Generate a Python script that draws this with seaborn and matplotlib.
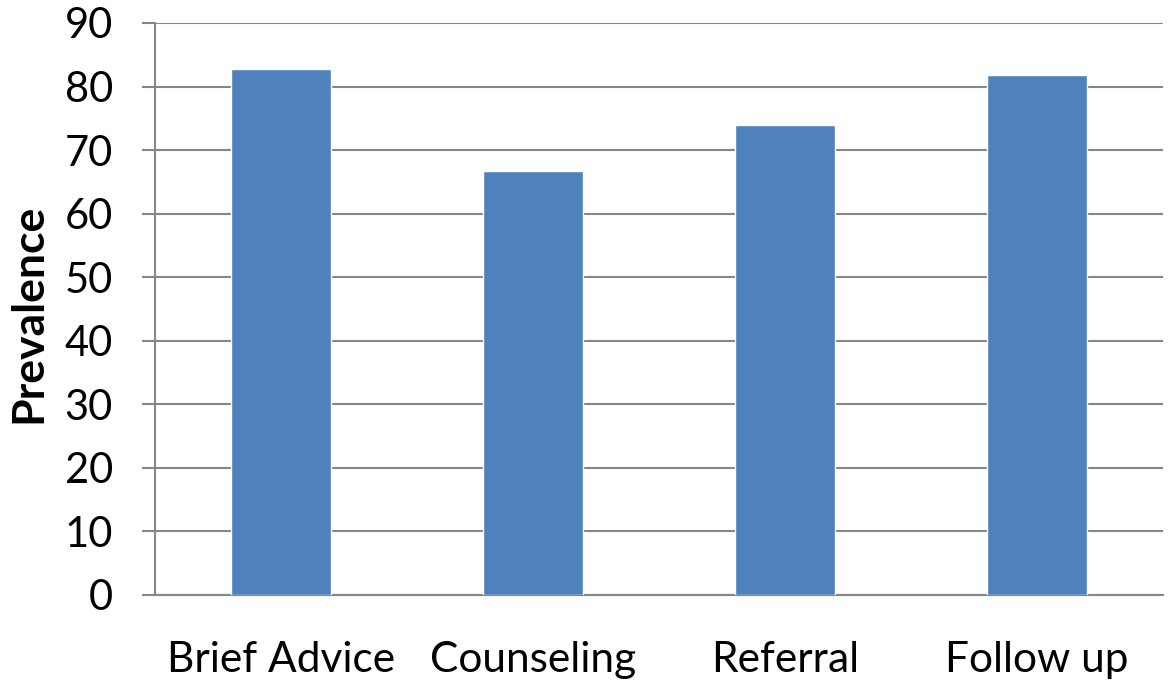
import matplotlib
matplotlib.use("Agg")
import matplotlib.pyplot as plt
import seaborn as sns
import pandas as pd

categories = ["Brief Advice", "Counseling", "Referral", "Follow up"]
values = [82.8, 66.7, 74.0, 81.8]
yticks = [0, 10, 20, 30, 40, 50, 60, 70, 80, 90]

sns.set_theme(style="white")
plt.rcParams['font.family'] = ['Lato', 'DejaVu Sans']

df = pd.DataFrame({"category": categories, "value": values})

fig = plt.figure(figsize=(11.73, 6.84), dpi=100)
ax = fig.add_axes([155/1173, 1 - 595/684, (1163-155)/1173, (595-23)/684])

sns.barplot(data=df, x="category", y="value", color="#4F81BD", width=0.4,
            saturation=1, ax=ax, zorder=3)

ax.set_ylim(0, 90)
ax.set_xlim(-0.5, 3.5)
ax.set_yticks(yticks)
ax.set_yticklabels([str(t) for t in yticks], fontsize=30, color="black")
ax.tick_params(axis="y", length=9.4, width=1.5, color="#868686", pad=21, direction="out", left=True)
ax.tick_params(axis="x", length=0, labelsize=30.5, pad=33, labelcolor="black")
ax.grid(axis="y", color="#868686", linewidth=1.5, zorder=0)
ax.set_axisbelow(True)
for s in ["top", "right"]:
    ax.spines[s].set_visible(False)
for s in ["left", "bottom"]:
    ax.spines[s].set_color("#868686")
    ax.spines[s].set_linewidth(1.5)
ax.set_xlabel("")
ax.set_ylabel("")
fig.text(28/1173, 1 - 313/684, "Prevalence", fontsize=32, fontweight="bold", color="black",
         rotation=90, ha="center", va="center")

fig.savefig("out.png", dpi=100)
